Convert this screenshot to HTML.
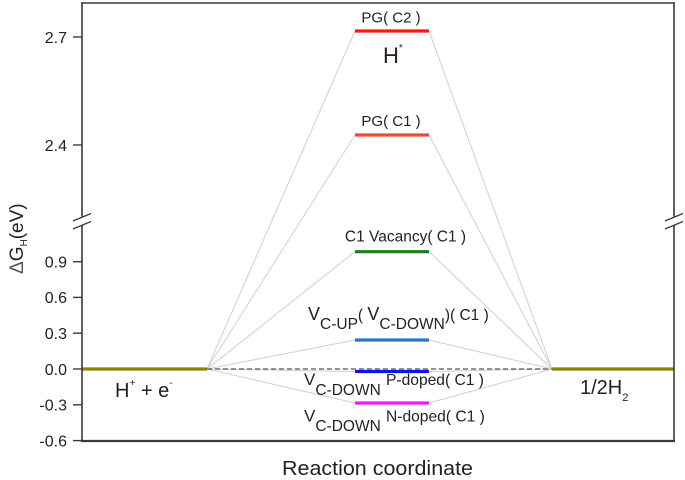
<!DOCTYPE html>
<html>
<head>
<meta charset="utf-8">
<style>
  html,body{margin:0;padding:0;background:#fff;}
  svg{display:block;}
  text{font-family:"Liberation Sans", Arial, sans-serif;fill:#222;}
</style>
</head>
<body>
<svg width="685" height="480" viewBox="0 0 685 480" xmlns="http://www.w3.org/2000/svg">
  <rect x="0" y="0" width="685" height="480" fill="#fff"/>

  <!-- connector lines -->
  <g stroke="#cfcfcf" stroke-width="1" fill="none">
    <line x1="207" y1="369" x2="355" y2="31"/>
    <line x1="429" y1="31" x2="552" y2="369"/>
    <line x1="207" y1="369" x2="355" y2="135"/>
    <line x1="429" y1="135" x2="552" y2="369"/>
    <line x1="207" y1="369" x2="355" y2="251.7"/>
    <line x1="429" y1="251.7" x2="552" y2="369"/>
    <line x1="207" y1="369" x2="355" y2="340"/>
    <line x1="429" y1="340" x2="552" y2="369"/>
    <line x1="207" y1="369" x2="355" y2="371.5"/>
    <line x1="429" y1="371.5" x2="552" y2="369"/>
    <line x1="207" y1="369" x2="355" y2="403"/>
    <line x1="429" y1="403" x2="552" y2="369"/>
  </g>

  <!-- dashed zero line -->
  <line x1="207" y1="369" x2="552" y2="369" stroke="#555" stroke-width="1.2" stroke-dasharray="5,3"/>

  <!-- energy bars -->
  <g stroke-width="3.2" stroke-linecap="butt">
    <line x1="82" y1="369" x2="207" y2="369" stroke="#858500"/>
    <line x1="552" y1="369" x2="674" y2="369" stroke="#858500"/>
    <line x1="355" y1="31" x2="429" y2="31" stroke="#ff1414"/>
    <line x1="355" y1="135" x2="429" y2="135" stroke="#ee4a38"/>
    <line x1="355" y1="251.7" x2="429" y2="251.7" stroke="#1d7a1d"/>
    <line x1="355" y1="340" x2="429" y2="340" stroke="#2b78bd"/>
    <line x1="355" y1="371.5" x2="429" y2="371.5" stroke="#1212ee"/>
    <line x1="355" y1="403" x2="429" y2="403" stroke="#ff14ff"/>
  </g>

  <!-- frame -->
  <g stroke="#3a3a3a" fill="none">
    <line x1="81" y1="3" x2="675" y2="3" stroke-width="1.6"/>
    <line x1="81" y1="441" x2="675" y2="441" stroke-width="2.2"/>
    <line x1="82" y1="3" x2="82" y2="216.5" stroke-width="1.6"/>
    <line x1="82" y1="225" x2="82" y2="441" stroke-width="1.6"/>
    <line x1="674" y1="3" x2="674" y2="216.5" stroke-width="1.6"/>
    <line x1="674" y1="225" x2="674" y2="441" stroke-width="1.6"/>
  </g>
  <!-- break marks -->
  <g stroke="#3a3a3a" stroke-width="1.3">
    <line x1="73" y1="221" x2="91" y2="213.5"/>
    <line x1="73" y1="229" x2="91" y2="221.5"/>
    <line x1="665" y1="221" x2="683" y2="213.5"/>
    <line x1="665" y1="229" x2="683" y2="221.5"/>
  </g>

  <!-- ticks -->
  <g stroke="#3a3a3a" stroke-width="1.4">
    <line x1="73" y1="37" x2="82" y2="37"/>
    <line x1="73" y1="145" x2="82" y2="145"/>
    <line x1="73" y1="261.7" x2="82" y2="261.7"/>
    <line x1="73" y1="297.4" x2="82" y2="297.4"/>
    <line x1="73" y1="333.2" x2="82" y2="333.2"/>
    <line x1="73" y1="369" x2="82" y2="369"/>
    <line x1="73" y1="404.8" x2="82" y2="404.8"/>
    <line x1="73" y1="440.6" x2="82" y2="440.6"/>
  </g>
  <g font-size="16" text-anchor="end">
    <text x="67" y="43">2.7</text>
    <text x="67" y="151">2.4</text>
    <text x="67" y="267.5">0.9</text>
    <text x="67" y="303.2">0.6</text>
    <text x="67" y="339">0.3</text>
    <text x="67" y="374.8">0.0</text>
    <text x="67" y="410.6">-0.3</text>
    <text x="67" y="446.4">-0.6</text>
  </g>

  <!-- y label -->
  <g transform="translate(23,274) rotate(-90)">
    <text x="0" y="0" font-size="19"><tspan fill="#555">Δ</tspan>G<tspan font-size="10" dy="4">H</tspan><tspan dy="-4">(eV)</tspan></text>
  </g>

  <!-- x label -->
  <text x="282" y="475" font-size="20" textLength="191" lengthAdjust="spacingAndGlyphs">Reaction coordinate</text>

  <!-- bar labels -->
  <text x="391" y="22.5" font-size="15" text-anchor="middle">PG( C2 )</text>
  <text x="383" y="63" font-size="22">H<tspan font-size="10" dy="-12">*</tspan></text>
  <text x="391" y="126" font-size="15" text-anchor="middle">PG( C1 )</text>
  <text x="405.5" y="241.5" font-size="15.5" text-anchor="middle">C1 Vacancy( C1 )</text>

  <text x="308" y="320" font-size="18">V<tspan font-size="15.5" dy="9">C-UP</tspan><tspan font-size="15.5" dy="-9">( </tspan><tspan font-size="18">V</tspan><tspan font-size="15.5" dy="9">C-DOWN</tspan><tspan font-size="15.5" dy="-9">)( C1 )</tspan></text>

  <text x="304" y="385" font-size="17">V<tspan font-size="15.5" dy="10">C-DOWN</tspan></text>
  <text x="386" y="385" font-size="15.6">P-doped( C1 )</text>

  <text x="304" y="421.5" font-size="17">V<tspan font-size="15.5" dy="9.5">C-DOWN</tspan></text>
  <text x="386" y="421.5" font-size="15.6">N-doped( C1 )</text>

  <!-- side labels -->
  <text x="115" y="397" font-size="20">H<tspan font-size="10" dy="-11">+</tspan><tspan dy="11"> + e</tspan><tspan font-size="10" dy="-11">-</tspan></text>
  <text x="580" y="394" font-size="20">1/2H<tspan font-size="11" dy="7">2</tspan></text>
</svg>
</body>
</html>
